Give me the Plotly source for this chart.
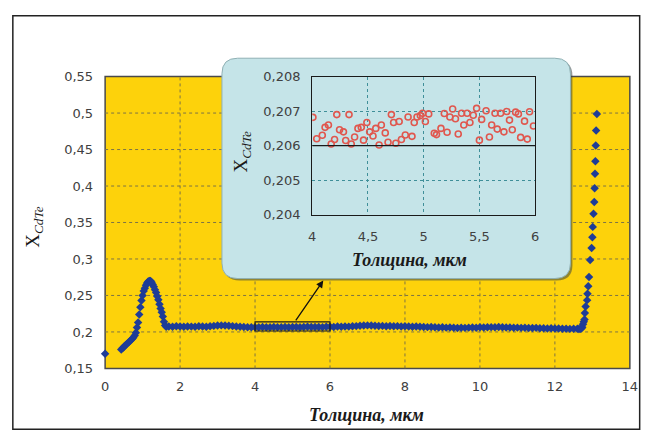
import plotly.graph_objects as go

W, H = 657, 446

# ---------------- data ----------------
main_x = [0.00,
          0.43, 0.47, 0.51, 0.55, 0.59, 0.63, 0.67, 0.71, 0.75, 0.79,
          0.82, 0.85, 0.88, 0.91, 0.94, 0.97, 1.00, 1.03, 1.06, 1.09,
          1.12, 1.15, 1.18, 1.21, 1.24, 1.27, 1.30, 1.33, 1.36, 1.39,
          1.42, 1.45, 1.48, 1.51, 1.54, 1.57, 1.60, 1.63,
          1.7, 1.8, 1.9, 2.0, 2.1, 2.2, 2.3, 2.4, 2.5, 2.6,
          2.7, 2.8, 2.9, 3.0, 3.1, 3.2, 3.3, 3.4, 3.5, 3.6,
          3.7, 3.8, 3.9, 4.0, 4.1, 4.2, 4.3, 4.4, 4.5, 4.6,
          4.7, 4.8, 4.9, 5.0, 5.1, 5.2, 5.3, 5.4, 5.5, 5.6,
          5.7, 5.8, 5.9, 6.0, 6.1, 6.2, 6.3, 6.4, 6.5, 6.6,
          6.7, 6.8, 6.9, 7.0, 7.1, 7.2, 7.3, 7.4, 7.5, 7.6,
          7.7, 7.8, 7.9, 8.0, 8.1, 8.2, 8.3, 8.4, 8.5, 8.6,
          8.7, 8.8, 8.9, 9.0, 9.1, 9.2, 9.3, 9.4, 9.5, 9.6,
          9.7, 9.8, 9.9, 10.0, 10.1, 10.2, 10.3, 10.4, 10.5, 10.6,
          10.7, 10.8, 10.9, 11.0, 11.1, 11.2, 11.3, 11.4, 11.5, 11.6,
          11.7, 11.8, 11.9, 12.0, 12.1, 12.2, 12.3, 12.4, 12.5, 12.6,
          12.64, 12.68, 12.71, 12.73, 12.75, 12.77, 12.79, 12.80, 12.82, 12.86,
          12.87, 12.89, 12.91, 12.94, 12.98, 13.00, 13.01, 13.03, 13.05, 13.06,
          13.07, 13.08, 13.09, 13.10, 13.12]
main_y = [0.170,
          0.176, 0.178, 0.180, 0.182, 0.184, 0.186, 0.188, 0.190, 0.192, 0.195,
          0.199, 0.206, 0.213, 0.224, 0.234, 0.243, 0.250, 0.256, 0.260, 0.264,
          0.267, 0.269, 0.270, 0.270, 0.268, 0.265, 0.262, 0.258, 0.254, 0.249,
          0.244, 0.238, 0.232, 0.227, 0.221, 0.214, 0.209, 0.207,
          0.2075, 0.2072, 0.2078, 0.2074, 0.2070, 0.2076, 0.2073, 0.2071, 0.2077, 0.2074,
          0.2072, 0.2079, 0.2083, 0.2087, 0.2090, 0.2088, 0.2084, 0.2080, 0.2076, 0.2072,
          0.2069, 0.2065, 0.2063, 0.2066, 0.2064, 0.2068, 0.2065, 0.2063, 0.2067, 0.2064,
          0.2066, 0.2068, 0.2065, 0.2069, 0.2067, 0.2064, 0.2068, 0.2070, 0.2067, 0.2069,
          0.2068, 0.2066, 0.2070, 0.2072, 0.2069, 0.2074, 0.2071, 0.2076, 0.2073, 0.2078,
          0.2080, 0.2084, 0.2088, 0.2090, 0.2087, 0.2085, 0.2081, 0.2083, 0.2079, 0.2081,
          0.2077, 0.2080, 0.2076, 0.2079, 0.2074, 0.2071, 0.2075, 0.2070, 0.2068, 0.2066,
          0.2068, 0.2064, 0.2061, 0.2063, 0.2059, 0.2062, 0.2057, 0.2055, 0.2058, 0.2056,
          0.2059, 0.2061, 0.2058, 0.2063, 0.2060, 0.2064, 0.2066, 0.2063, 0.2067, 0.2065,
          0.2062, 0.2060, 0.2057, 0.2059, 0.2056, 0.2058, 0.2055, 0.2053, 0.2056, 0.2052,
          0.2050, 0.2048, 0.2051, 0.2046, 0.2047, 0.2044, 0.2045, 0.2042, 0.2044, 0.2043,
          0.2040, 0.2042, 0.2050, 0.2065, 0.2105, 0.2140, 0.2170, 0.2260, 0.2348, 0.2436,
          0.2524, 0.2626, 0.2754, 0.2987, 0.3150, 0.3297, 0.3440, 0.3620, 0.3780, 0.3970,
          0.4167, 0.4340, 0.4555, 0.4760, 0.4988]

inset_x = [4.006, 4.04, 4.09, 4.115, 4.145, 4.17, 4.20, 4.22, 4.245, 4.28,
           4.30, 4.33, 4.35, 4.38, 4.41, 4.44, 4.46, 4.49, 4.515, 4.545,
           4.57, 4.60, 4.62, 4.655, 4.68, 4.71, 4.73, 4.75, 4.78, 4.80,
           4.835, 4.86, 4.895, 4.915, 4.94, 4.97, 4.99, 5.015, 5.045, 5.095,
           5.115, 5.155, 5.185, 5.21, 5.235, 5.26, 5.285, 5.31, 5.34, 5.36,
           5.39, 5.415, 5.445, 5.475, 5.50, 5.52, 5.56, 5.59, 5.61, 5.64,
           5.66, 5.69, 5.72, 5.745, 5.77, 5.795, 5.825, 5.85, 5.87, 5.905,
           5.93, 5.95, 5.985]
inset_y = [0.20682, 0.20620, 0.20630, 0.20653, 0.20660, 0.20605, 0.20618, 0.20690, 0.20646, 0.20640,
           0.20615, 0.20690, 0.20605, 0.20625, 0.20650, 0.20653, 0.20616, 0.20667, 0.20640, 0.20628,
           0.20650, 0.20602, 0.20660, 0.20637, 0.20610, 0.20690, 0.20667, 0.20607, 0.20670, 0.20618,
           0.20631, 0.20683, 0.20627, 0.20667, 0.20683, 0.20687, 0.20694, 0.20670, 0.20692, 0.20636,
           0.20632, 0.20650, 0.20693, 0.20639, 0.20683, 0.20706, 0.20678, 0.20634, 0.20694, 0.20660,
           0.20694, 0.20667, 0.20688, 0.20708, 0.20616, 0.20676, 0.20701, 0.20625, 0.20660, 0.20694,
           0.20648, 0.20694, 0.20640, 0.20699, 0.20674, 0.20646, 0.20697, 0.20692, 0.20624, 0.20671,
           0.20619, 0.20698, 0.20657]

main_xticks = [0, 2, 4, 6, 8, 10, 12, 14]
main_yticks = [0.15, 0.2, 0.25, 0.3, 0.35, 0.4, 0.45, 0.5, 0.55]
inset_xticks = [4, 4.5, 5, 5.5, 6]
inset_yticks = [0.204, 0.205, 0.206, 0.207, 0.208]
axis_title_x = "Толщина, мкм"
axis_title_y = "X<sub><i>CdTe</i></sub>"

# ---------------- geometry helpers (pixels -> paper) ----------------
def px(x):
    return x / W

def py(y):
    return 1 - y / H

MAIN_L, MAIN_R, MAIN_T, MAIN_B = 103, 637.5, 72, 374
INS_L, INS_R, INS_T, INS_B = 314, 541, 72, 215
BOX_L, BOX_R, BOX_T, BOX_B, BOX_RAD = 222, 577, 53, 281, 16

YELLOW = "#FDD20B"
BLUE = "#1E3C97"
BOXBLUE = "#C5E4E8"
TICKFONT = dict(family="DejaVu Sans", size=13, color="#404040")
TITLEFONT = dict(family="Liberation Serif", size=18, color="#1a1a1a")


def rounded_path(l, t, r, b, rad):
    pts = [
        f"M {px(l + rad)} {py(t)}",
        f"L {px(r - rad)} {py(t)}",
        f"Q {px(r)} {py(t)} {px(r)} {py(t + rad)}",
        f"L {px(r)} {py(b - rad)}",
        f"Q {px(r)} {py(b)} {px(r - rad)} {py(b)}",
        f"L {px(l + rad)} {py(b)}",
        f"Q {px(l)} {py(b)} {px(l)} {py(b - rad)}",
        f"L {px(l)} {py(t + rad)}",
        f"Q {px(l)} {py(t)} {px(l + rad)} {py(t)}",
        "Z",
    ]
    return " ".join(pts)


fig = go.Figure()

fig.add_trace(go.Scatter(
    x=main_x, y=main_y, mode="markers",
    marker=dict(symbol="diamond", size=6.5, color=BLUE, line=dict(width=0)),
    xaxis="x", yaxis="y", showlegend=False, cliponaxis=False,
))

fig.add_trace(go.Scatter(
    x=inset_x, y=inset_y, mode="markers",
    marker=dict(symbol="circle-open", size=6, color="#E0574E", line=dict(width=1.6, color="#E0574E")),
    xaxis="x2", yaxis="y2", showlegend=False,
))

shapes = []
shapes.append(dict(type="rect", xref="paper", yref="paper",
                   x0=px(MAIN_L), x1=px(MAIN_R), y0=py(MAIN_B), y1=py(MAIN_T),
                   fillcolor=YELLOW, line=dict(color="#4a4a4a", width=1.5), layer="below"))
for xv in main_xticks[1:-1]:
    shapes.append(dict(type="line", xref="x", yref="paper", x0=xv, x1=xv,
                       y0=py(MAIN_B), y1=py(MAIN_T),
                       line=dict(color="#7d7446", width=1, dash="dot"), layer="below"))
for yv in main_yticks[1:-1]:
    shapes.append(dict(type="line", xref="paper", yref="y", y0=yv, y1=yv,
                       x0=px(MAIN_L), x1=px(MAIN_R),
                       line=dict(color="#7d7446", width=1, dash="dot"), layer="below"))
shapes.append(dict(type="path", xref="paper", yref="paper",
                   path=rounded_path(BOX_L + 2, BOX_T + 2, BOX_R + 2, BOX_B + 2, BOX_RAD),
                   fillcolor="rgba(60,70,70,0.55)", line=dict(width=0), layer="below"))
shapes.append(dict(type="path", xref="paper", yref="paper",
                   path=rounded_path(BOX_L, BOX_T, BOX_R, BOX_B, BOX_RAD),
                   fillcolor=BOXBLUE, line=dict(color="#8fb0b4", width=1), layer="below"))
shapes.append(dict(type="line", xref="x2", yref="y2", x0=4, x1=6, y0=0.206, y1=0.206,
                   line=dict(color="#1a1a1a", width=1.3), layer="above"))
shapes.append(dict(type="rect", xref="x", yref="y", x0=4.0, x1=6.0, y0=0.2013, y1=0.2138,
                   line=dict(color="#1a1a1a", width=1.2), fillcolor="rgba(0,0,0,0)", layer="above"))
shapes.append(dict(type="rect", xref="paper", yref="paper",
                   x0=px(9), x1=px(647.5), y0=py(437), y1=py(9),
                   line=dict(color="#222222", width=1.5), layer="above"))

annotations = [
    dict(xref="paper", yref="paper", x=px(369), y=py(422), text=f"<b><i>{axis_title_x}</i></b>",
         showarrow=False, font=TITLEFONT, xanchor="center", yanchor="middle"),
    dict(xref="paper", yref="paper", x=px(413), y=py(262), text=f"<b><i>{axis_title_x}</i></b>",
         showarrow=False, font=TITLEFONT, xanchor="center", yanchor="middle"),
    dict(xref="paper", yref="paper", x=px(31), y=py(228), text=axis_title_y, textangle=-90,
         showarrow=False, font=dict(family="Liberation Serif", size=19, color="#1a1a1a"),
         xanchor="center", yanchor="middle"),
    dict(xref="paper", yref="paper", x=px(242), y=py(150), text=axis_title_y, textangle=-90,
         showarrow=False, font=dict(family="Liberation Serif", size=19, color="#1a1a1a"),
         xanchor="center", yanchor="middle"),
    dict(xref="x", yref="y", axref="x", ayref="y", x=5.82, y=0.2705, ax=5.06, ay=0.2138,
         text="", showarrow=True, arrowhead=2, arrowsize=1.1, arrowwidth=1.3, arrowcolor="#111111"),
]

fig.update_layout(
    width=W, height=H,
    margin=dict(l=0, r=0, t=0, b=0),
    paper_bgcolor="white",
    plot_bgcolor="rgba(0,0,0,0)",
    separators=", ",
    shapes=shapes,
    annotations=annotations,
    xaxis=dict(domain=[px(MAIN_L), px(MAIN_R)], range=[0, 14], tickvals=main_xticks,
               showgrid=False, zeroline=False, showline=False, ticks="",
               tickfont=TICKFONT, ticklabelstandoff=9, anchor="y"),
    yaxis=dict(domain=[py(MAIN_B), py(MAIN_T)], range=[0.15, 0.55], tickvals=main_yticks,
               showgrid=False, zeroline=False, showline=False, ticks="",
               tickfont=TICKFONT, ticklabelstandoff=11, anchor="x"),
    xaxis2=dict(domain=[px(INS_L), px(INS_R)], range=[4, 6], tickvals=inset_xticks,
                showgrid=True, gridcolor="#3f8f99", griddash="dot", gridwidth=1,
                zeroline=False, showline=True, linecolor="#1a1a1a", linewidth=1.3, mirror=True,
                ticks="", tickfont=TICKFONT, ticklabelstandoff=9, anchor="y2"),
    yaxis2=dict(domain=[py(INS_B), py(INS_T)], range=[0.204, 0.208], tickvals=inset_yticks,
                showgrid=True, gridcolor="#3f8f99", griddash="dot", gridwidth=1,
                zeroline=False, showline=True, linecolor="#1a1a1a", linewidth=1.3, mirror=True,
                ticks="", tickfont=TICKFONT, ticklabelstandoff=8, anchor="x2",
                tickformat=".3f"),
)

fig.write_html("out.html")
